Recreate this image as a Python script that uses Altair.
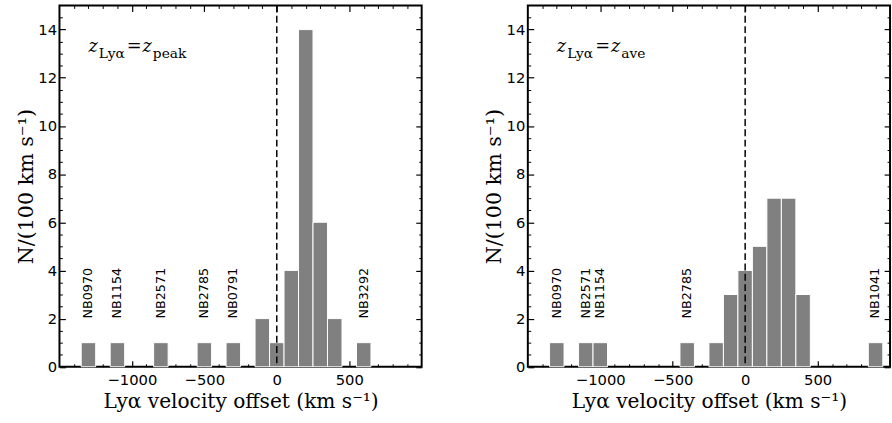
import altair as alt
import pandas as pd

# ---------------- data ----------------
BIN_WIDTH = 100
peak_centers = [-1300, -1100, -800, -500, -300, -100, 0, 100, 200, 300, 400, 600]
peak_counts = [1, 1, 1, 1, 1, 2, 1, 4, 14, 6, 2, 1]
peak_label_names = ["NB0970", "NB1154", "NB2571", "NB2785", "NB0791", "NB3292"]
peak_label_pos = [-1300, -1100, -800, -500, -300, 600]

ave_centers = [-1300, -1100, -1000, -400, -200, -100, 0, 100, 200, 300, 400, 900]
ave_counts = [1, 1, 1, 1, 1, 3, 4, 5, 7, 7, 3, 1]
ave_label_names = ["NB0970", "NB2571", "NB1154", "NB2785", "NB1041"]
ave_label_pos = [-1300, -1100, -1000, -400, 900]

label_y = 2
zero_line = [0]

x_major = [-1000, -500, 0, 500]
x_minor = [v for v in range(-1400, 1000, 100) if v % 500 != 0]
y_major = [0, 2, 4, 6, 8, 10, 12, 14]
y_minor = [v / 2 for v in range(1, 30) if v % 4 != 0]
X_DOMAIN = [-1500, 1000]
Y_DOMAIN = [0, 15]

x_title = "Lyα velocity offset (km s⁻¹)"
y_title = "N/(100 km s⁻¹)"
ann_main = "z"
ann_sub1 = "Lyα"
ann_eq = "="
peak_sub = "peak"
ave_sub = "ave"

# ---------------- style ----------------
W, H = 368.5, 367.5
SERIF = "DejaVu Serif"
SANS = "DejaVu Sans"
BAR = "#808080"

xs = alt.Scale(domain=X_DOMAIN, nice=False, zero=False, padding=0)
ys = alt.Scale(domain=Y_DOMAIN, nice=False, zero=False, padding=0)


def tick_axis(orient, values, size, width, offset):
    return alt.Axis(orient=orient, values=values, offset=offset, tickSize=size,
                    tickWidth=width, tickColor="black", ticks=True, labels=False,
                    domain=False, grid=False, title=None)


def panel(centers, counts, names, pos, sub):
    bars_df = pd.DataFrame({"center": centers, "count": counts})
    bars_df["lo"] = bars_df["center"] - BIN_WIDTH / 2
    bars_df["hi"] = bars_df["center"] + BIN_WIDTH / 2
    bars_df["base"] = 0
    lab_df = pd.DataFrame({"pos": pos, "name": names, "y": [label_y] * len(pos)})
    zero_df = pd.DataFrame({"v": zero_line})

    x_main = alt.Axis(orient="bottom", values=x_major, format="d", title=x_title,
                      ticks=False, tickSize=0, domain=False, grid=False,
                      labelFont=SANS, labelFontSize=15, labelPadding=6, labelColor="black",
                      titleFont=SERIF, titleFontSize=20.5, titleFontWeight="normal",
                      titlePadding=4, titleColor="black")
    y_main = alt.Axis(orient="left", values=y_major, format="d", title=y_title,
                      ticks=False, tickSize=0, domain=False, grid=False,
                      labelFont=SANS, labelFontSize=15, labelPadding=3, labelColor="black",
                      titleFont=SERIF, titleFontSize=21, titleFontWeight="normal",
                      titlePadding=1.5, titleColor="black")

    bars = alt.Chart(bars_df).mark_bar(color=BAR, stroke="white", strokeWidth=1,
                                       orient="vertical").encode(
        x=alt.X("lo:Q", scale=xs, axis=x_main),
        x2="hi:Q",
        y=alt.Y("count:Q", scale=ys, axis=y_main),
        y2="base:Q",
    )

    labels = alt.Chart(lab_df).mark_text(angle=270, align="left", baseline="middle",
                                         font=SANS, fontSize=13, color="black").encode(
        x=alt.X("pos:Q", scale=xs, axis=None),
        y=alt.Y("y:Q", scale=ys, axis=None),
        text="name:N",
    )

    vline = alt.Chart(zero_df).mark_rule(color="black", strokeWidth=1.5,
                                         strokeDash=[7, 3.5]).encode(
        x=alt.X("v:Q", scale=xs, axis=None)
    )

    def txt(t, x, y, size, style="normal"):
        return alt.Chart(zero_df).mark_text(text=t, align="left", baseline="alphabetic",
                                            font=SERIF, fontSize=size, fontStyle=style,
                                            color="black").encode(
            x=alt.value(x), y=alt.value(y))

    ann = [
        txt(ann_main, 29.5, 47, 18, "italic"),
        txt(ann_sub1, 40, 53, 14),
        txt(ann_eq, 68.5, 47.5, 18),
        txt(ann_main, 84.5, 47, 18, "italic"),
        txt(sub, 95, 53, 14),
    ]

    def ghost(xa, ya):
        return alt.Chart(bars_df).mark_point(opacity=0, size=1).encode(
            x=alt.X("center:Q", scale=xs, axis=xa),
            y=alt.Y("count:Q", scale=ys, axis=ya),
        )

    ticks = [
        ghost(tick_axis("top", x_major, 6, 1.2, -H), tick_axis("right", y_major, 6, 1.2, -W)),
        ghost(tick_axis("top", x_minor, 3, 1, -H), tick_axis("right", y_minor, 3, 1, -W)),
        ghost(tick_axis("bottom", x_major, 6, 1.2, -H), tick_axis("left", y_major, 6, 1.2, -W)),
        ghost(tick_axis("bottom", x_minor, 3, 1, -H), tick_axis("left", y_minor, 3, 1, -W)),
    ]

    return alt.layer(bars, labels, vline, *ann, *ticks).resolve_axis(
        x="independent", y="independent").properties(width=W, height=H)


left = panel(peak_centers, peak_counts, peak_label_names, peak_label_pos, peak_sub)
right = panel(ave_centers, ave_counts, ave_label_names, ave_label_pos, ave_sub)

chart = alt.hconcat(left, right, spacing=59.5).properties(
    padding={"left": 14.5, "top": 0, "right": 0, "bottom": 0},
    background="white",
).configure_view(stroke="black", strokeWidth=2)

chart.save("out.html", embed_options={"renderer": "svg", "actions": False})
